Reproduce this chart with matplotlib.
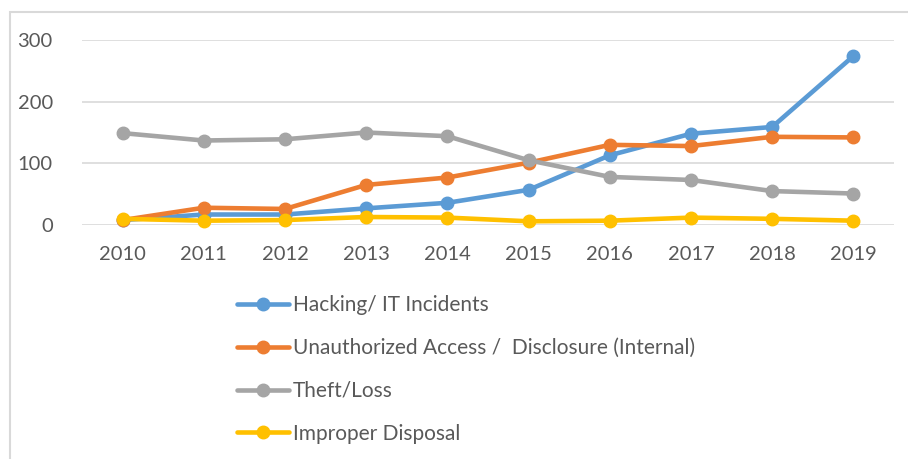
import matplotlib.pyplot as plt
from matplotlib.patches import Rectangle

years = ['2010', '2011', '2012', '2013', '2014', '2015', '2016', '2017', '2018', '2019']
hacking = [8, 17, 17, 27, 36, 57, 113, 148, 159, 274]
unauthorized = [8, 28, 26, 65, 77, 101, 130, 128, 143, 142]
theft_loss = [149, 137, 139, 150, 144, 105, 78, 73, 55, 51]
improper_disposal = [10, 7, 8, 13, 12, 6, 7, 12, 10, 7]

series = [
    ('Hacking/ IT Incidents', hacking, '#5B9BD5'),
    ('Unauthorized Access /  Disclosure (Internal)', unauthorized, '#ED7D31'),
    ('Theft/Loss', theft_loss, '#A5A5A5'),
    ('Improper Disposal', improper_disposal, '#FFC000'),
]

plt.rcParams['font.family'] = ['Lato', 'DejaVu Sans']

W, H = 908, 459
fig = plt.figure(figsize=(W / 100, H / 100), dpi=100)
fig.patch.set_facecolor('white')

# outer frame (partly cut off at right/bottom in the reference)
fig.patches.append(Rectangle((9.5 / W, -0.05), 1.1, 1 - 12 / H + 0.05,
                             transform=fig.transFigure, fill=False,
                             edgecolor='#D9D9D9', linewidth=1.5))

ax = fig.add_axes([82 / W, 1 - 225 / H, (894 - 82) / W, (225 - 40) / H])
x = list(range(len(years)))
handles = []
for name, vals, color in series:
    h, = ax.plot(x, vals, color=color, linewidth=3.3, marker='o', markersize=9,
                 label=name, clip_on=False, solid_capstyle='round')
    handles.append(h)

ax.set_xlim(-0.5, len(years) - 0.5)
ax.set_ylim(0, 300)
ax.set_yticks([0, 100, 200, 300])
ax.set_xticks(x)
ax.set_xticklabels(years)
ax.grid(axis='y', color='#D9D9D9', linewidth=1.2)
ax.set_axisbelow(True)
for s in ax.spines.values():
    s.set_visible(False)
ax.tick_params(axis='both', length=0, labelsize=14.5, colors='#595959')
ax.tick_params(axis='x', pad=15)
ax.tick_params(axis='y', pad=21)

fig.legend(handles=handles, loc='upper left', bbox_to_anchor=(237 / W, 1 - 295 / H),
           frameon=False, fontsize=15, labelcolor='#595959',
           handlelength=2.5, handletextpad=0.2, labelspacing=1.1, borderaxespad=0,
           borderpad=0)

fig.savefig('out.png', dpi=100)
